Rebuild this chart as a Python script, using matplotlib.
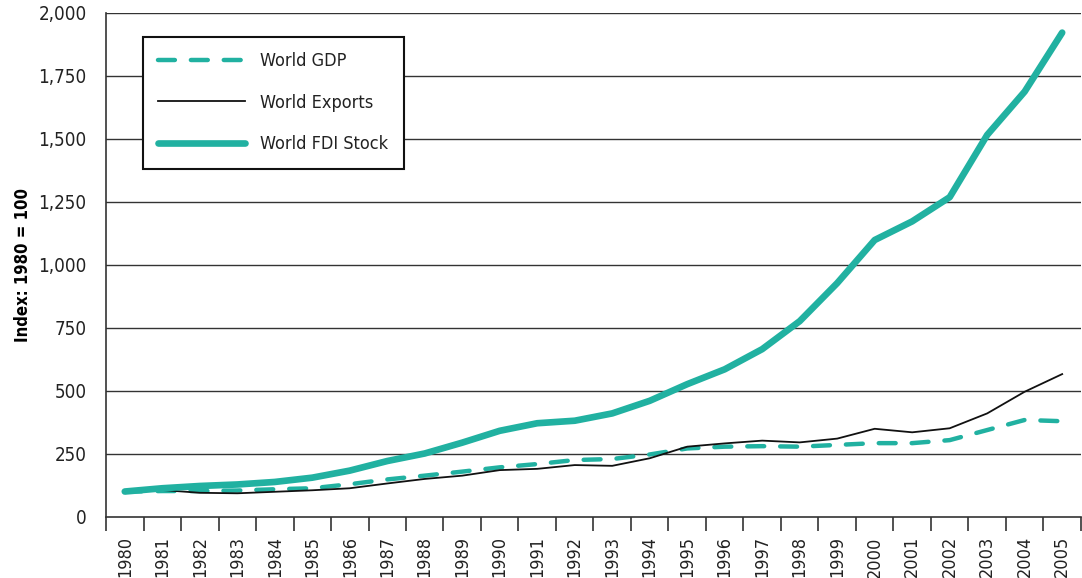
import matplotlib
matplotlib.use('Agg')
import matplotlib.pyplot as plt
from matplotlib.ticker import FixedLocator, FuncFormatter
import numpy as np

plt.rcParams['font.family'] = ['DejaVu Sans']
plt.rcParams['font.stretch'] = 'condensed'

years = list(range(1980, 2006))
world_gdp = [100, 102, 102, 104, 109, 113, 129, 148, 163, 179, 196, 209, 225, 229, 247,
             271, 278, 280, 278, 285, 292, 292, 304, 344, 384, 379]
world_exports = [100, 106, 95, 93, 99, 105, 113, 132, 150, 163, 185, 190, 205, 202, 232,
                 278, 291, 302, 295, 310, 349, 335, 351, 410, 496, 566]
world_fdi = [100, 113, 122, 128, 138, 155, 183, 221, 251, 294, 341, 371, 381, 410, 460,
             526, 585, 665, 776, 927, 1098, 1172, 1268, 1515, 1687, 1921]

teal = '#21b1a1'
grid_col = '#333333'

fig = plt.figure(figsize=(10.82, 5.78), dpi=100)
ax = fig.add_axes([0.098, 0.106, 0.901, 0.872])

x = np.arange(len(years))
ax.plot(x, world_gdp, color=teal, lw=3.2, ls=(0, (3.8, 3.6)), dash_capstyle='round',
        solid_capstyle='round', label='World GDP', zorder=3)
ax.plot(x, world_exports, color='#111111', lw=1.3, label='World Exports', zorder=4)
ax.plot(x, world_fdi, color=teal, lw=4.8, solid_capstyle='round', label='World FDI Stock', zorder=5)

ax.set_xlim(-0.5, len(years) - 0.5)
ax.set_ylim(0, 2000)

yt = np.arange(0, 2001, 250)
ax.set_yticks(yt)
ax.yaxis.set_major_formatter(FuncFormatter(lambda v, p: f'{int(v):,}'))
for v in yt[1:]:
    ax.axhline(v, color=grid_col, lw=1.0, zorder=1)

ax.set_xticks(x)
ax.set_xticklabels([str(y) for y in years], rotation=90, fontsize=13, color='#222222')
ax.xaxis.set_minor_locator(FixedLocator(np.arange(-0.5, len(years), 1.0)))
ax.tick_params(axis='x', which='major', length=0, pad=14)
ax.tick_params(axis='x', which='minor', length=10, width=1.2, color=grid_col)
ax.tick_params(axis='y', length=0, pad=14, labelsize=13.5, labelcolor='#222222')

for s in ['top', 'right']:
    ax.spines[s].set_visible(False)
for s in ['left', 'bottom']:
    ax.spines[s].set_color(grid_col)
    ax.spines[s].set_linewidth(1.2)

ax.set_ylabel('Index: 1980 = 100', fontsize=12, fontweight='bold')
ax.yaxis.set_label_coords(-0.076, 0.5)

leg = ax.legend(loc='upper left', bbox_to_anchor=(0.038, 0.952), fontsize=13,
                frameon=True, fancybox=False, handlelength=4.8, handletextpad=0.85,
                borderpad=0.85, labelspacing=1.3, borderaxespad=0)
leg.get_frame().set_edgecolor('#111111')
leg.get_frame().set_linewidth(1.5)
leg.get_frame().set_alpha(1)
for t in leg.get_texts():
    t.set_color('#222222')

fig.savefig('out.png', dpi=100)
